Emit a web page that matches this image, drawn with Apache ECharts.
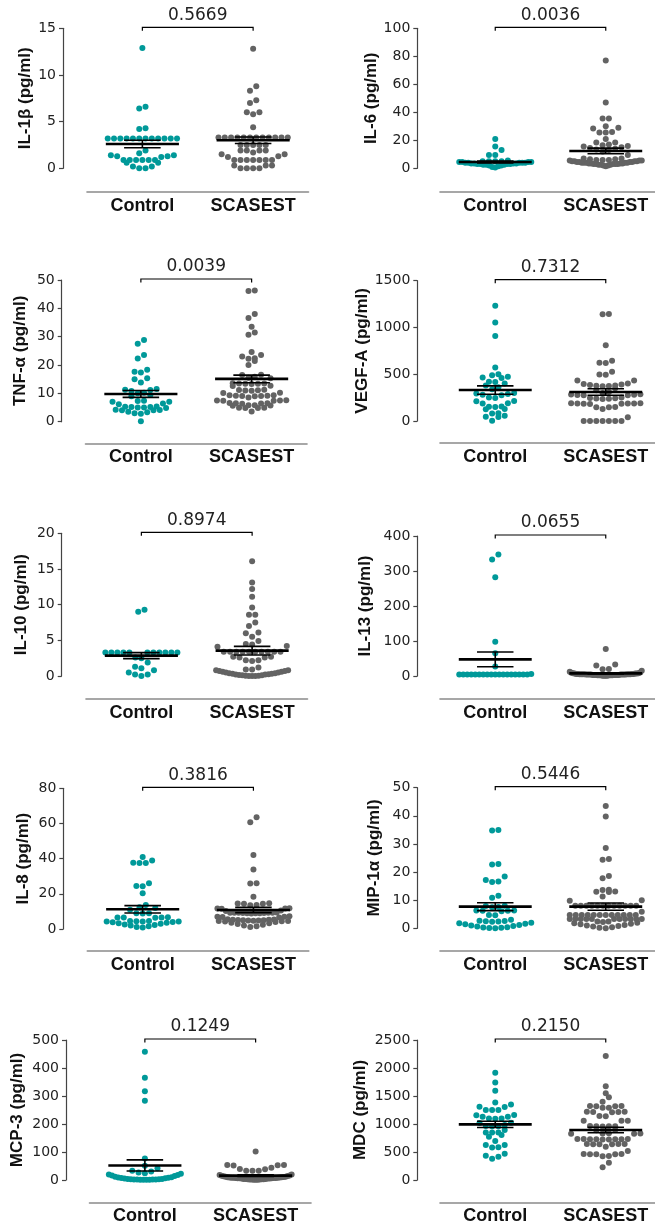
<!DOCTYPE html>
<html><head><meta charset="utf-8">
<script src="https://cdn.jsdelivr.net/npm/echarts/dist/echarts.min.js"></script>
<style>html,body{margin:0;padding:0;background:#fff}#c{width:655px;height:1229px}</style>
</head><body><div id="c"></div><script>
// ---------- DATA ----------
const categories = ['Control', 'SCASEST'];
const yTitles = ['IL-1β (pg/ml)', 'IL-6 (pg/ml)', 'TNF-α (pg/ml)', 'VEGF-A (pg/ml)', 'IL-10 (pg/ml)',
                 'IL-13 (pg/ml)', 'IL-8 (pg/ml)', 'MIP-1α (pg/ml)', 'MCP-3 (pg/ml)', 'MDC (pg/ml)'];
const yMax  = [15, 100, 50, 1500, 20, 400, 80, 50, 500, 2500];
const yStep = [5, 20, 10, 500, 5, 100, 20, 10, 100, 500];
const pValues = ['0.5669', '0.0036', '0.0039', '0.7312', '0.8974', '0.0655', '0.3816', '0.5446', '0.1249', '0.2150'];
const controlMeans = [2.6, 4.5, 9.8, 331, 2.85, 47.6, 11.2, 7.7, 52, 994];
const controlSems  = [0.4, 0.7, 1.2, 45, 0.42, 21, 2.1, 1.4, 20, 56];
const scasestMeans = [3.0, 12.4, 15.1, 310, 3.55, 7.6, 10.8, 7.7, 15.5, 893];
const scasestSems  = [0.35, 2.0, 1.35, 35, 0.6, 1.8, 1.5, 1.3, 3, 50];

const il1bControl = [12.9, 6.6, 6.4, 4.3, 4.2, 3.2, 3.2, 3.2, 3.2, 3.2, 3.2, 3.2, 3.2, 3.2, 3.2, 3.2, 3.2, 1.9, 1.6, 1.4, 1.4, 1.3, 1.3, 1.2, 0.9, 0.9, 0.9, 0.9, 0.9, 0.9, 0.6, 0.6, 0.2, 0.2, 0.0, 0.0];
const il1bScasest = [12.8, 8.8, 8.3, 7.3, 7.0, 6.0, 6.0, 5.8, 4.4, 3.3, 3.3, 3.3, 3.3, 3.3, 3.3, 3.3, 3.3, 3.3, 3.3, 3.3, 3.3, 2.5, 2.5, 2.5, 2.5, 2.5, 1.9, 1.9, 1.9, 1.9, 1.7, 1.5, 1.5, 1.3, 1.2, 0.9, 0.9, 0.9, 0.9, 0.9, 0.9, 0.9, 0.3, 0.3, 0.3, 0.0, 0.0, 0.0, 0.0];
const il6Control = [21, 15.5, 13, 9.5, 9.5, 5.5, 5, 5, 5, 5, 4.5, 4.5, 4.5, 4.5, 4, 4, 4, 4, 4, 3.5, 3.5, 3.5, 3.5, 3, 3, 3, 3, 2.5, 2.5, 2.5, 2, 2, 1.5, 1, 0.5];
const il6Scasest = [77, 47, 35.5, 35.5, 30, 29, 28.5, 26, 25.5, 25.5, 21, 18.5, 18.5, 17, 16.5, 16, 15.5, 15, 14.5, 14, 13.5, 13, 12, 9.5, 7, 7, 6.5, 6.5, 6, 6, 6, 5.5, 5.5, 5.5, 5, 5, 5, 5, 4.5, 4.5, 4.5, 4.5, 4, 4, 4, 4, 4, 3.5, 3.5, 3.5, 3.5, 3, 3, 3, 3, 3, 2.5, 2.5, 2.5, 2, 2, 1.5];
const tnfControl = [28.8, 27.5, 23.5, 22.3, 18.3, 17.6, 17.4, 15.3, 15.0, 13.8, 11.5, 11.3, 11.2, 10.8, 10.2, 10.0, 9.4, 9.0, 7.4, 7.3, 7.0, 7.0, 6.4, 6.2, 5.4, 5.3, 5.2, 5.2, 5.0, 5.0, 4.8, 4.2, 4.1, 4.0, 4.0, 3.5, 3.3, 3.0, 2.8, 0.2];
const tnfScasest = [46.3, 46.1, 38.0, 36.6, 33.5, 31.5, 30.7, 24.6, 23.5, 23.0, 22.4, 22.2, 21.4, 20.0, 16.6, 16.5, 15.9, 15.5, 15.3, 13.6, 13.5, 13.5, 13.4, 13.4, 13.3, 12.7, 12.6, 11.3, 11.2, 11.1, 11.0, 10.9, 10.2, 10.1, 9.3, 9.3, 9.2, 9.2, 9.1, 9.1, 9.0, 8.5, 7.6, 7.5, 7.5, 7.4, 7.4, 6.6, 6.5, 6.5, 6.4, 6.3, 5.8, 5.8, 5.7, 5.6, 4.9, 4.9, 4.8, 4.8, 3.6];
const vegfControl = [1232, 1054, 908, 573, 499, 488, 473, 466, 460, 420, 418, 402, 380, 360, 340, 300, 295, 290, 280, 276, 250, 245, 214, 212, 190, 188, 155, 153, 150, 128, 125, 82, 80, 57, 46, 42, 2];
const vegfScasest = [1143, 1140, 811, 644, 622, 620, 527, 498, 495, 434, 432, 400, 395, 390, 385, 380, 378, 375, 372, 350, 330, 310, 300, 285, 282, 280, 278, 276, 275, 250, 245, 242, 240, 238, 235, 190, 189, 188, 187, 186, 185, 184, 183, 150, 148, 146, 128, 40, 0, 0, 0, 0, 0, 0, 0];
const il10Control = [9.3, 9.0, 3.3, 3.3, 3.3, 3.3, 3.3, 3.3, 3.3, 3.3, 3.3, 3.3, 3.3, 2.6, 2.5, 1.9, 1.3, 1.1, 0.8, 0.5, 0.2, 0.2, 0.0];
const il10Scasest = [16.1, 13.1, 12.2, 11.1, 9.6, 8.6, 8.6, 7.5, 7.0, 6.1, 6.0, 5.5, 4.9, 4.5, 4.4, 4.2, 4.1, 3.4, 3.4, 3.4, 3.4, 3.4, 3.4, 3.4, 3.4, 3.4, 3.4, 2.7, 2.7, 2.6, 2.6, 2.2, 2.2, 2.1, 1.2, 0.9, 0.9, 0.8, 0.8, 0.7, 0.7, 0.6, 0.6, 0.5, 0.5, 0.4, 0.4, 0.3, 0.3, 0.25, 0.2, 0.2, 0.15, 0.1, 0.1, 0.05, 0.05, 0.0, 0.0, 0.0];
const il13Control = [347, 333, 282, 98, 65, 27, 6, 4, 4, 4, 4, 4, 4, 4, 4, 4, 4, 4, 4, 4, 4, 4, 4, 4, 4];
const il13Scasest = [77, 33, 30, 20, 19, 15, 12, 10, 9, 8, 8, 7, 7, 7, 6, 6, 6, 6, 5, 5, 5, 5, 5, 5, 5, 4, 4, 4, 4, 4, 4, 4, 4, 3, 3, 3, 3, 3, 3, 3, 2, 2, 2, 2, 2, 2, 1, 1, 1, 1];
const il8Control = [41, 39, 37.7, 37.5, 37.5, 26, 24.4, 24.3, 20.3, 13.6, 12.3, 12.0, 11, 9, 8.9, 8.8, 6.7, 6.6, 6.5, 6.5, 6.4, 4.6, 4.5, 4.4, 4.3, 4.2, 4.2, 4.0, 3.8, 3.5, 3.2, 3.0, 2.6, 2.3, 2.0, 1.6, 1.2, 0.8];
const il8Scasest = [63.5, 60.7, 42.1, 33.9, 26, 25.8, 18.4, 14.6, 14.5, 14.4, 14.3, 13.6, 13.5, 11.8, 11.7, 11.6, 11.5, 10.5, 10.2, 9.4, 9.3, 9.3, 9.2, 9.2, 9.2, 9.1, 9.1, 9.0, 9.0, 8.9, 8.8, 7.2, 7.0, 7.0, 6.8, 6.6, 5.5, 5.4, 5.3, 5.2, 5.1, 5.0, 5.0, 4.9, 4.8, 4.7, 4.6, 4.5, 4.4, 4.2, 4.0, 3.6, 3.2, 2.8, 2.4, 2.0, 1.6, 1.2];
const mipControl = [35.0, 34.8, 22.9, 22.7, 18.4, 17.2, 16.6, 16.5, 11.6, 10.9, 8.0, 7.9, 7.6, 7.5, 6.3, 6.3, 6.2, 6.2, 6.1, 4.7, 4.6, 3.0, 2.7, 2.6, 2.5, 2.4, 2.3, 2.0, 1.8, 1.6, 1.4, 1.2, 1.0, 0.8, 0.6, 0.4, 0.3, 0.2, 0.1, 0.0];
const mipScasest = [43.5, 39.8, 28.6, 24.6, 24.4, 18.6, 17.8, 13.7, 13.6, 13.1, 13.0, 12.9, 11.3, 10.0, 9.8, 8.0, 8.0, 8.0, 8.0, 8.0, 8.0, 8.0, 8.0, 8.0, 8.0, 8.0, 8.0, 5.9, 4.7, 4.7, 4.7, 4.7, 4.7, 4.7, 4.7, 4.7, 4.7, 4.7, 4.7, 4.7, 3.3, 3.3, 3.3, 3.3, 3.3, 3.3, 3.3, 3.3, 3.3, 3.3, 3.3, 2.4, 2.4, 2.2, 2.0, 1.8, 1.6, 1.4, 1.2, 1.0, 0.8, 0.6, 0.4, 0.2, 0.0];
const mcpControl = [458, 365, 317, 283, 77, 51, 42, 33, 30, 27, 24, 22, 20, 18, 16, 14, 12, 10, 9, 8, 7, 6, 5, 4, 4, 3, 3, 2, 2, 2, 2, 1, 1, 1, 1];
const mcpScasest = [102, 54, 54, 53, 52, 44, 39, 38, 33, 33, 33, 20, 18, 16, 15, 14, 13, 12, 12, 11, 10, 10, 9, 9, 8, 8, 8, 7, 7, 7, 6, 6, 6, 5, 5, 5, 4, 4, 4, 3, 3, 3, 2, 2, 2, 1, 1, 1];
const mdcControl = [1916, 1743, 1595, 1386, 1350, 1309, 1305, 1250, 1250, 1248, 1160, 1158, 1130, 1128, 1100, 1098, 1095, 1023, 1020, 980, 964, 962, 960, 892, 850, 848, 846, 803, 773, 696, 625, 623, 583, 580, 470, 434, 416, 381];
const mdcScasest = [2213, 1672, 1547, 1476, 1398, 1321, 1320, 1318, 1316, 1290, 1288, 1220, 1218, 1216, 1214, 1212, 1142, 1140, 1060, 1058, 1056, 964, 962, 960, 958, 956, 893, 890, 833, 832, 830, 828, 826, 732, 731, 730, 729, 728, 727, 726, 725, 724, 643, 642, 641, 640, 639, 638, 595, 518, 464, 463, 462, 461, 460, 428, 426, 310, 226];

const controlGroups = [il1bControl, il6Control, tnfControl, vegfControl, il10Control, il13Control, il8Control, mipControl, mcpControl, mdcControl];
const scasestGroups = [il1bScasest, il6Scasest, tnfScasest, vegfScasest, il10Scasest, il13Scasest, il8Scasest, mipScasest, mcpScasest, mdcScasest];

// ---------- LAYOUT (pixels) ----------
// [gridLeft, gridTop, gridWidth, gridHeight, yAxisOffset, xAxisOffset, nameGap]
const layout = [
  [87, 28.3, 221.5, 140, 24, 23.4, 29.5],
  [440, 28.3, 221, 140, 22.7, 23.4, 34.5],
  [85.5, 280, 221.5, 141.7, 23.8, 21.6, 33],
  [440, 280.7, 221, 140.3, 22.7, 21.7, 44],
  [86, 533.3, 221.5, 142.7, 24.3, 23, 32],
  [440, 536, 221, 140, 22.7, 23, 43],
  [87.3, 788.3, 221.5, 140.7, 24, 21.7, 31.5],
  [440, 787.7, 221, 140.6, 22.7, 22.4, 34.5],
  [89.5, 1040, 221.5, 140, 23.5, 22.3, 40.5],
  [440, 1040, 221, 140, 22.7, 22.3, 48.5]
];
const TEAL = '#009999', GREY = '#636363';
const BIN_PX = 6, DOT_GAP = 6.3, MAX_ROW = 72, DOT = 6;

// GraphPad-like column scatter: bin by pixel height, spread each bin symmetrically
function swarm(values, g, max, h, w) {
  const ppy = h / max, ppx = w / 2;
  const sorted = values.slice().sort((a, b) => a - b);
  const binU = BIN_PX / ppy;
  const pts = [];
  let i = 0;
  while (i < sorted.length) {
    const start = sorted[i]; let j = i;
    while (j < sorted.length && sorted[j] - start < binU) j++;
    const n = j - i;
    const s = n > 1 ? Math.min(DOT_GAP, MAX_ROW / (n - 1)) : 0;
    for (let k = 0; k < n; k++) {
      let slot;
      if (n % 2) slot = k === 0 ? 0 : (k % 2 ? -Math.ceil(k / 2) : Math.ceil(k / 2));
      else slot = (k % 2 ? 1 : -1) * (Math.floor(k / 2) + 0.5);
      pts.push([g + slot * s / ppx, sorted[i + k]]);
    }
    i = j;
  }
  return pts;
}

const labelFont = 'Liberation Sans, Arial, Helvetica, sans-serif';
const tickFont = 'DejaVu Sans, Verdana, sans-serif';
const grid = [], xAxis = [], yAxis = [], series = [];

yTitles.forEach((title, i) => {
  const L = layout[i];
  grid.push({left: L[0], top: L[1], width: L[2], height: L[3], outerBoundsMode: 'none'});
  xAxis.push({gridIndex: i, type: 'value', min: -0.5, max: 1.5, show: false});
  xAxis.push({gridIndex: i, type: 'category', data: categories, position: 'bottom', offset: L[5],
    axisLine: {show: true, onZero: false, lineStyle: {color: '#8a8a8a', width: 1.6}},
    axisTick: {show: false}, splitLine: {show: false},
    axisLabel: {interval: 0, margin: 5, fontFamily: labelFont, fontWeight: 'bold', fontSize: 18, color: '#111'}});
  yAxis.push({gridIndex: i, type: 'value', min: 0, max: yMax[i], interval: yStep[i], offset: L[4],
    position: 'left',
    name: title, nameLocation: 'middle', nameGap: L[6], nameRotate: 90,
    nameTextStyle: {fontFamily: labelFont, fontWeight: 'bold', fontSize: 17, color: '#111'},
    axisLine: {show: true, onZero: false, lineStyle: {color: '#444', width: 1.2}},
    axisTick: {show: true, length: 4, lineStyle: {color: '#444', width: 1.2}},
    splitLine: {show: false},
    axisLabel: {margin: 7, fontFamily: tickFont, fontSize: 14, color: '#222', formatter: v => String(v)}});

  const xi = i * 2;
  [controlGroups[i], scasestGroups[i]].forEach((vals, g) => {
    series.push({type: 'scatter', xAxisIndex: xi, yAxisIndex: i, clip: false, silent: true,
      symbol: 'circle', symbolSize: DOT, itemStyle: {color: g ? GREY : TEAL, opacity: 1},
      data: swarm(vals, g, yMax[i], L[3], L[2]), z: 2});
  });

  series.push({type: 'custom', xAxisIndex: xi, yAxisIndex: i, silent: true, z: 5,
    data: [[0, controlMeans[i], controlSems[i]], [1, scasestMeans[i], scasestSems[i]]],
    renderItem: function (params, api) {
      const g = api.value(0), m = api.value(1), s = api.value(2);
      const c = api.coord([g, m]), hi = api.coord([g, m + s]), lo = api.coord([g, Math.max(0, m - s)]);
      const mw = api.size([0.33, 0])[0], sw = api.size([0.165, 0])[0];
      const st = {stroke: '#000', lineWidth: 1.6};
      return {type: 'group', children: [
        {type: 'line', shape: {x1: c[0] - mw, y1: c[1], x2: c[0] + mw, y2: c[1]}, style: {stroke: '#000', lineWidth: 2.6}},
        {type: 'line', shape: {x1: hi[0] - sw, y1: hi[1], x2: hi[0] + sw, y2: hi[1]}, style: st},
        {type: 'line', shape: {x1: lo[0] - sw, y1: lo[1], x2: lo[0] + sw, y2: lo[1]}, style: st},
        {type: 'line', shape: {x1: c[0], y1: hi[1], x2: c[0], y2: lo[1]}, style: st}
      ]};
    }});

  series.push({type: 'custom', xAxisIndex: xi, yAxisIndex: i, silent: true, z: 5,
    data: [[0, 1, yMax[i]]],
    renderItem: function (params, api) {
      const a = api.coord([api.value(0), api.value(2)]);
      const b = api.coord([api.value(1), api.value(2)]);
      const y = a[1] - 1;
      return {type: 'group', children: [
        {type: 'polyline', shape: {points: [[a[0], y + 3.5], [a[0], y], [b[0], y], [b[0], y + 3.5]]},
          style: {stroke: '#000', lineWidth: 1.2, fill: null}},
        {type: 'text', x: (a[0] + b[0]) / 2, y: y - 12,
          style: {text: pValues[i], fontFamily: tickFont, fontSize: 17, fill: '#222',
            align: 'center', verticalAlign: 'middle', textAlign: 'center', textVerticalAlign: 'middle'}}
      ]};
    }});
});

const chart = echarts.init(document.getElementById('c'), null, {renderer: 'canvas'});
chart.setOption({animation: false, backgroundColor: '#fff', grid, xAxis, yAxis, series});
</script></body></html>
